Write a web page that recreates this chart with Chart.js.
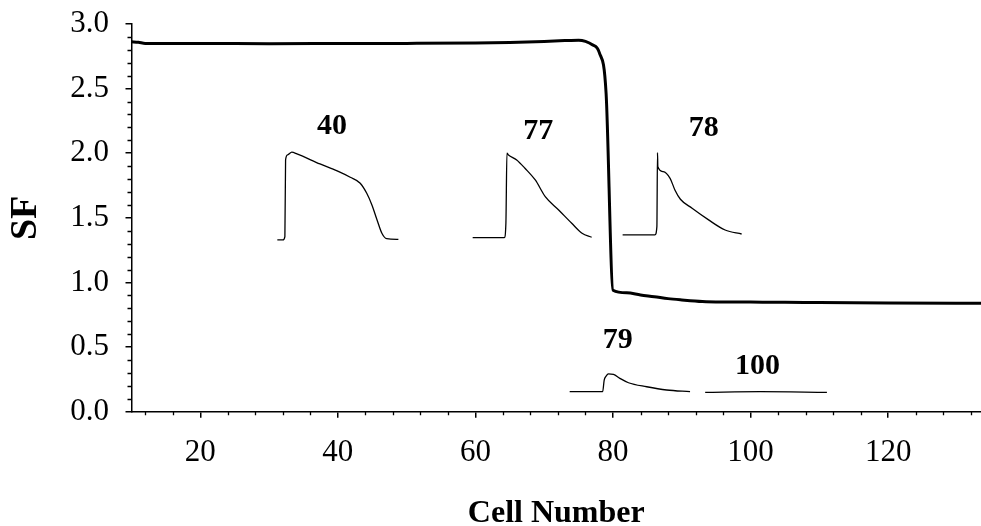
<!DOCTYPE html>
<html>
<head>
<meta charset="utf-8">
<script src="https://cdn.jsdelivr.net/npm/chart.js@4/dist/chart.umd.min.js"></script>
<style>
  html, body { margin: 0; padding: 0; background: #fff; }
  #wrap { width: 981px; height: 526px; }
</style>
</head>
<body>
<div id="wrap"><canvas id="c" width="981" height="526"></canvas></div>
<script>
// ---- Data ----
const mainX = [10, 11, 12, 20, 30, 40, 50, 60, 65, 70, 73, 75, 76, 77, 78, 79, 80, 82, 84, 86, 88, 90, 93, 96, 100, 105, 110, 120, 133.5];
const mainY = [2.862, 2.858, 2.850, 2.849, 2.848, 2.849, 2.850, 2.853, 2.857, 2.865, 2.872, 2.875, 2.866, 2.84, 2.78, 2.46, 0.94, 0.92, 0.903, 0.89, 0.875, 0.865, 0.853, 0.849, 0.848, 0.847, 0.845, 0.842, 0.839];

const ap40X = [31.2, 32.0, 32.3, 32.4, 32.7, 33.3, 34.05, 37.4, 39.9, 41.8, 43.25, 44.2, 44.95, 45.7, 46.4, 47.1, 48.8];
const ap40Y = [1.329, 1.329, 1.355, 1.948, 1.987, 2.008, 1.995, 1.917, 1.863, 1.814, 1.768, 1.690, 1.600, 1.484, 1.381, 1.339, 1.334];

const ap77X = [59.6, 64.2, 64.43, 64.58, 64.8, 66.0, 67.2, 68.7, 70.15, 72.1, 74.0, 75.5, 76.9];
const ap77Y = [1.347, 1.347, 1.458, 2.000, 1.987, 1.948, 1.884, 1.793, 1.664, 1.561, 1.458, 1.381, 1.350];

const ap78X = [81.4, 86.1, 86.38, 86.47, 86.52, 87.3, 88.3, 89.0, 89.8, 91.5, 93.9, 96.3, 98.7];
const ap78Y = [1.368, 1.368, 1.432, 2.005, 1.896, 1.858, 1.806, 1.716, 1.644, 1.574, 1.484, 1.406, 1.375];

const ap79X = [73.7, 78.5, 78.72, 79.0, 79.34, 80.07, 81.0, 82.25, 84.9, 87.8, 91.2];
const ap79Y = [0.155, 0.155, 0.245, 0.275, 0.292, 0.289, 0.258, 0.224, 0.193, 0.168, 0.155];

const ap100X = [93.4, 101.4, 111.1];
const ap100Y = [0.150, 0.155, 0.150];

const xTickValues = [20, 40, 60, 80, 100, 120];
const yTickStep = 0.5;

const traceLabels = ['40', '77', '78', '79', '100'];
const traceLabelCell = [39.15, 69.15, 93.2, 80.7, 101.0];
const traceLabelSF = [2.211, 2.167, 2.193, 0.555, 0.348];

// ---- helpers ----
const pts = (xs, ys) => xs.map((x, i) => ({ x: x, y: ys[i] }));
const SERIF = '"Liberation Serif", "Times New Roman", serif';

function traceSet(xs, ys) {
  return {
    data: pts(xs, ys),
    borderColor: '#000',
    borderWidth: 1.3,
    pointRadius: 0,
    cubicInterpolationMode: 'monotone',
    fill: false
  };
}

const minorTicks = {
  id: 'minorTicks',
  afterDraw(chart) {
    const ctx = chart.ctx;
    const xs = chart.scales.x, ys = chart.scales.y;
    ctx.save();
    ctx.strokeStyle = '#000';
    ctx.lineWidth = 1.3;
    ctx.beginPath();
    for (let i = 0; i <= 30; i++) {
      if (i % 5 === 0) continue;
      const py = Math.round(ys.getPixelForValue(i / 10)) + 0.5;
      ctx.moveTo(xs.left - 4, py);
      ctx.lineTo(xs.left, py);
    }
    for (let v = 12; v <= 133; v += 4) {
      if (v % 20 === 0) continue;
      const px = Math.round(xs.getPixelForValue(v)) + 0.5;
      ctx.moveTo(px, ys.bottom);
      ctx.lineTo(px, ys.bottom + 3.5);
    }
    ctx.stroke();

    ctx.fillStyle = '#000';
    ctx.font = 'bold 30px ' + SERIF;
    ctx.textAlign = 'center';
    ctx.textBaseline = 'middle';
    traceLabels.forEach((t, i) => {
      ctx.fillText(t, xs.getPixelForValue(traceLabelCell[i]), ys.getPixelForValue(traceLabelSF[i]));
    });
    ctx.restore();
  }
};

new Chart(document.getElementById('c'), {
  type: 'line',
  data: {
    datasets: [
      {
        data: pts(mainX, mainY),
        borderColor: '#000',
        borderWidth: 3,
        pointRadius: 0,
        cubicInterpolationMode: 'monotone',
        fill: false
      },
      traceSet(ap40X, ap40Y),
      traceSet(ap77X, ap77Y),
      traceSet(ap78X, ap78Y),
      traceSet(ap79X, ap79Y),
      traceSet(ap100X, ap100Y)
    ]
  },
  options: {
    responsive: false,
    animation: false,
    devicePixelRatio: 1,
    layout: { padding: { top: 24, right: 0, left: 0, bottom: 0 } },
    plugins: { legend: { display: false }, tooltip: { enabled: false } },
    scales: {
      x: {
        type: 'linear',
        min: 10,
        max: 133.5,
        afterBuildTicks: (s) => { s.ticks = xTickValues.map(v => ({ value: v })); },
        afterFit: (s) => { s.height = 114.3; s.paddingLeft = 0; s.paddingRight = 0; },
        ticks: {
          color: '#000',
          padding: 16.5,
          maxRotation: 0,
          autoSkip: false,
          font: { family: SERIF, size: 31 }
        },
        grid: { drawOnChartArea: false, drawTicks: true, tickLength: 6, color: '#000', lineWidth: 1.5 },
        border: { display: true, color: '#000', width: 1.5 },
        title: {
          display: true,
          text: 'Cell Number',
          color: '#000',
          font: { family: SERIF, size: 32, weight: 'bold', lineHeight: 0.8 },
          padding: { top: 0, bottom: -1 }
        }
      },
      y: {
        min: 0,
        max: 3,
        afterFit: (s) => { s.width = 131.5; s.paddingTop = 0; s.paddingBottom = 0; },
        ticks: {
          stepSize: yTickStep,
          color: '#000',
          padding: 16.5,
          font: { family: SERIF, size: 31 },
          callback: (v) => Number(v).toFixed(1)
        },
        grid: { drawOnChartArea: false, drawTicks: true, tickLength: 6, color: '#000', lineWidth: 1.5 },
        border: { display: true, color: '#000', width: 1.5 },
        title: {
          display: true,
          text: 'SF',
          color: '#000',
          font: { family: SERIF, size: 38, weight: 'bold', lineHeight: 1.2 },
          padding: { top: 3, bottom: 0 }
        }
      }
    }
  },
  plugins: [minorTicks]
});
</script>
</body>
</html>
